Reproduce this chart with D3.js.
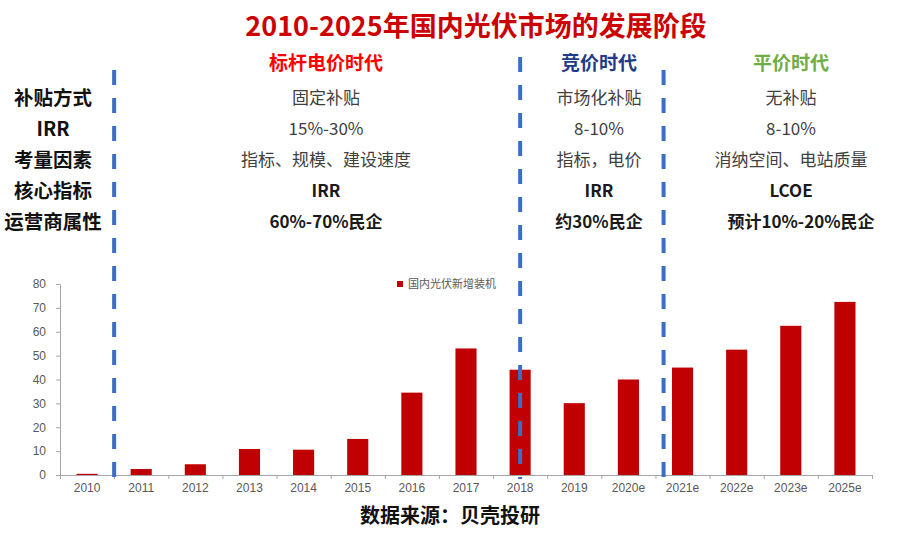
<!DOCTYPE html>
<html>
<head>
<meta charset="utf-8">
<script src="https://cdn.jsdelivr.net/npm/d3@7"></script>
<style>
  body { margin: 0; background: #fff; }
  svg { display: block; }
</style>
</head>
<body>
<svg width="900" height="535"></svg>
<script>
let years = ["2010", "2011", "2012", "2013", "2014", "2015", "2016", "2017",
  "2018", "2019", "2020e", "2021e", "2022e", "2023e", "2025e"];
let installs = [0.5, 2.5, 4.5, 10.9, 10.6, 15.1, 34.5, 53.0, 44.1, 30.1, 40.0, 45.0, 52.5, 62.5, 72.5];
let yTicks = [0, 10, 20, 30, 40, 50, 60, 70, 80];
let seriesName = "国内光伏新增装机";

let rowHeaders = ["补贴方式", "IRR", "考量因素", "核心指标", "运营商属性"];
let eras = ["标杆电价时代", "竞价时代", "平价时代"];
let eraRows = [
  ["固定补贴", "15%-30%", "指标、规模、建设速度", "IRR", "60%-70%民企"],
  ["市场化补贴", "8-10%", "指标，电价", "IRR", "约30%民企"],
  ["无补贴", "8-10%", "消纳空间、电站质量", "LCOE", "预计10%-20%民企"],
];
// era dividers, in category units along the x axis
let dividers = [1, 8.5, 11.15];

let title = "2010-2025年国内光伏市场的发展阶段";
let source = "数据来源：贝壳投研";

let eraColors = ["#ff0000", "#1f3c88", "#70ad47"];
let eraX = [326, 599, 791];
let cjk = "'Noto Sans CJK SC', 'Noto Sans', sans-serif";
let latin = "'Liberation Sans', Arial, sans-serif";

let svg = d3.select("svg");

let xBand = d3.scaleBand().domain(years).range([60, 872]).paddingInner(0.61).paddingOuter(0.305);
let xIdx = d3.scaleLinear().domain([0, years.length]).range([60, 872]);
let yScale = d3.scaleLinear().domain([0, 80]).range([475, 284]);
let rowY = d3.scalePoint().domain(rowHeaders).range([98, 222]);

// title
svg.append("text")
  .attr("x", 476).attr("y", 36)
  .attr("text-anchor", "middle")
  .style("font-family", cjk).style("font-size", "27px").style("font-weight", 700)
  .style("fill", "#cc0000")
  .text(title);

// row headers
svg.append("g").selectAll("text")
  .data(rowHeaders)
  .enter().append("text")
  .attr("x", 53)
  .attr("y", d => rowY(d))
  .attr("dy", "0.35em")
  .attr("text-anchor", "middle")
  .style("font-family", cjk).style("font-size", "19.5px").style("font-weight", 700)
  .style("fill", "#111")
  .text(d => d);

// era headers
svg.append("g").selectAll("text")
  .data(eras)
  .enter().append("text")
  .attr("x", (d, i) => eraX[i])
  .attr("y", 63)
  .attr("dy", "0.35em")
  .attr("text-anchor", "middle")
  .style("font-family", cjk).style("font-size", "19px").style("font-weight", 700)
  .style("fill", (d, i) => eraColors[i])
  .text(d => d);

// era values
eraRows.forEach(function (col, i) {
  svg.append("g").selectAll("text")
    .data(col)
    .enter().append("text")
    .attr("x", (d, j) => eraX[i] + (i == 2 && j == 4 ? 10 : 0))
    .attr("y", (d, j) => rowY(rowHeaders[j]))
    .attr("dy", "0.35em")
    .attr("text-anchor", "middle")
    .style("font-family", cjk)
    .style("font-size", "17px")
    .style("font-weight", (d, j) => j >= 3 ? 700 : 400)
    .style("fill", (d, j) => j >= 3 ? "#1a1a1a" : "#404040")
    .text(d => d);
});

// bars
svg.append("g").selectAll("rect")
  .data(installs)
  .enter().append("rect")
  .attr("x", (d, i) => xBand(years[i]))
  .attr("y", d => yScale(d))
  .attr("width", xBand.bandwidth())
  .attr("height", d => yScale(0) - yScale(d))
  .style("fill", "#c00000");

// y axis
let yAxis = svg.append("g")
  .attr("transform", "translate(60,0)")
  .call(d3.axisLeft(yScale).tickValues(yTicks).tickSize(4).tickSizeOuter(0));
yAxis.selectAll("path, line").attr("stroke", "#a6a6a6");
yAxis.selectAll("text")
  .attr("x", -14)
  .style("font-family", latin)
  .style("font-size", "12px").style("fill", "#595959");

// x axis: boundary ticks and centred labels
let xAxis = svg.append("g")
  .attr("transform", "translate(0,475)")
  .call(d3.axisBottom(xIdx).tickValues(d3.range(years.length + 1)).tickFormat("").tickSize(4).tickSizeOuter(0));
xAxis.selectAll("path, line").attr("stroke", "#a6a6a6");

let xLabels = svg.append("g")
  .attr("transform", "translate(0,475)")
  .call(d3.axisBottom(xBand).tickSize(0).tickPadding(8));
xLabels.select(".domain").remove();
xLabels.selectAll("text")
  .style("font-family", latin)
  .style("font-size", "12px").style("fill", "#595959");

// legend
svg.append("rect")
  .attr("x", 397).attr("y", 281).attr("width", 6).attr("height", 6)
  .style("fill", "#c00000");
svg.append("text")
  .attr("x", 408).attr("y", 284)
  .attr("dy", "0.35em")
  .style("font-family", cjk).style("font-size", "11px").style("fill", "#595959")
  .text(seriesName);

// era dividers
let dividerTop = [70, 57, 70];
svg.append("g").selectAll("line")
  .data(dividers)
  .enter().append("line")
  .attr("x1", d => xIdx(d)).attr("x2", d => xIdx(d))
  .attr("y1", (d, i) => dividerTop[i]).attr("y2", 479)
  .attr("stroke", "#3b6fc6")
  .attr("stroke-width", 4)
  .attr("stroke-dasharray", "15,13");

// source
svg.append("text")
  .attr("x", 450).attr("y", 516)
  .attr("dy", "0.35em")
  .attr("text-anchor", "middle")
  .style("font-family", cjk).style("font-size", "20px").style("font-weight", 700)
  .style("fill", "#111")
  .text(source);
</script>
</body>
</html>
